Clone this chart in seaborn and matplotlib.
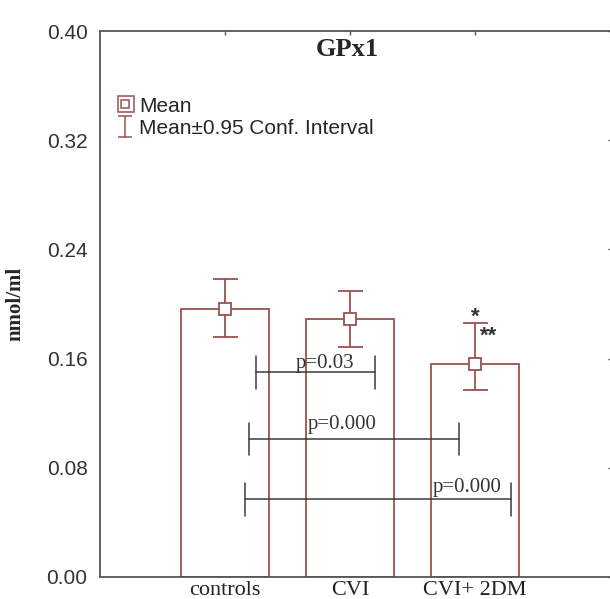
import numpy as np
import matplotlib
matplotlib.use("Agg")
import matplotlib.pyplot as plt
import seaborn as sns
from matplotlib.lines import Line2D
from matplotlib.legend_handler import HandlerTuple

groups = ["controls", "CVI", "CVI+ 2DM"]
means = [0.196, 0.189, 0.156]
ci_low = [0.176, 0.1685, 0.137]
ci_high = [0.218, 0.2095, 0.186]

# comparison brackets (group index space, 0 = controls)
cmp_x0 = [0.25, 0.19, 0.16]
cmp_x1 = [1.20, 1.87, 2.29]
cmp_y = [0.1498, 0.1011, 0.0569]
cmp_text = ["p=0.03", "p=0.000", "p=0.000"]
cmp_text_x = [0.80, 0.94, 1.94]
cmp_text_y = [0.1564, 0.1113, 0.0652]

yticks = [0.00, 0.08, 0.16, 0.24, 0.32, 0.40]

RED = "#9a5252"
GREY = "#555555"

sns.set_style("white")
plt.rcParams["font.family"] = ["Liberation Sans", "DejaVu Sans"]

fig = plt.figure(figsize=(6.10, 5.99), dpi=100)
ax = fig.add_axes([0.164, 0.037, 0.84, 0.911])

sns.barplot(x=groups, y=means, color="white", edgecolor=RED, linewidth=1.3,
            width=0.7, ax=ax)

x = np.arange(len(groups))
m = np.array(means)
yerr = [m - np.array(ci_low), np.array(ci_high) - m]
ax.errorbar(x, m, yerr=yerr, fmt="none", ecolor=RED, elinewidth=1.3,
            capsize=9, capthick=1.3, zorder=4)
ax.plot(x, m, ls="none", marker="s", ms=8, mfc="white", mec=RED, mew=1.3, zorder=5)

# comparison brackets
for x0, x1, yy, txt, tx, ty in zip(cmp_x0, cmp_x1, cmp_y, cmp_text, cmp_text_x, cmp_text_y):
    ax.plot([x0, x1], [yy, yy], color="#3a3a3a", lw=1.1, zorder=3)
    for xe in (x0, x1):
        ax.plot([xe, xe], [yy - 0.012, yy + 0.012], color="#3a3a3a", lw=1.1, zorder=3)
    ax.text(tx, ty, txt, ha="center", va="center", fontsize=15,
            family="Liberation Serif", color="#333333", zorder=6)

ax.text(2.0, 0.1905, "*", ha="center", va="center", fontsize=16, fontweight="bold",
        color="#333333")
ax.text(2.11, 0.1765, "**", ha="center", va="center", fontsize=16, fontweight="bold",
        color="#333333")

ax.set_xlim(-1, 3.1)
ax.set_ylim(0, 0.40)
ax.set_yticks(yticks)
ax.set_yticklabels([f"{t:.2f}" for t in yticks], fontsize=15)
ax.set_xticks(x)
ax.set_xticklabels(groups, fontsize=16, family="Liberation Serif")
ax.tick_params(direction="in", length=3, width=1, colors=GREY, top=True, right=True,
               labelcolor="#333333", pad=9)
ax.tick_params(axis="x", pad=3, labelcolor="#222222")
for s in ax.spines.values():
    s.set_color(GREY)
    s.set_linewidth(1.3)

ax.set_xlabel("")
ax.set_ylabel("nmol/ml", fontsize=15, fontweight="bold", family="Liberation Serif",
              labelpad=15)
ax.set_title("GPx1", fontsize=19, fontweight="bold", family="Liberation Serif",
             x=0.483, y=0.94)

# legend
big = Line2D([], [], ls="none", marker="s", ms=12, mfc="none", mec=RED, mew=1.1)
small = Line2D([], [], ls="none", marker="s", ms=6, mfc="none", mec=RED, mew=1.1)
ci_handle = ax.errorbar([np.nan], [np.nan], yerr=[[0.01]], fmt="none", ecolor=RED,
                        elinewidth=1.1, capsize=5, capthick=1.1)
ax.legend([(big, small), ci_handle], ["Mean", "Mean±0.95 Conf. Interval"],
          handler_map={tuple: HandlerTuple(ndivide=None, pad=-1.0)},
          loc="upper left", bbox_to_anchor=(0.015, 0.895), frameon=False,
          fontsize=15, handlelength=0.9, handletextpad=0.2, labelspacing=0.15,
          borderaxespad=0)

fig.savefig("out.png", dpi=100)
